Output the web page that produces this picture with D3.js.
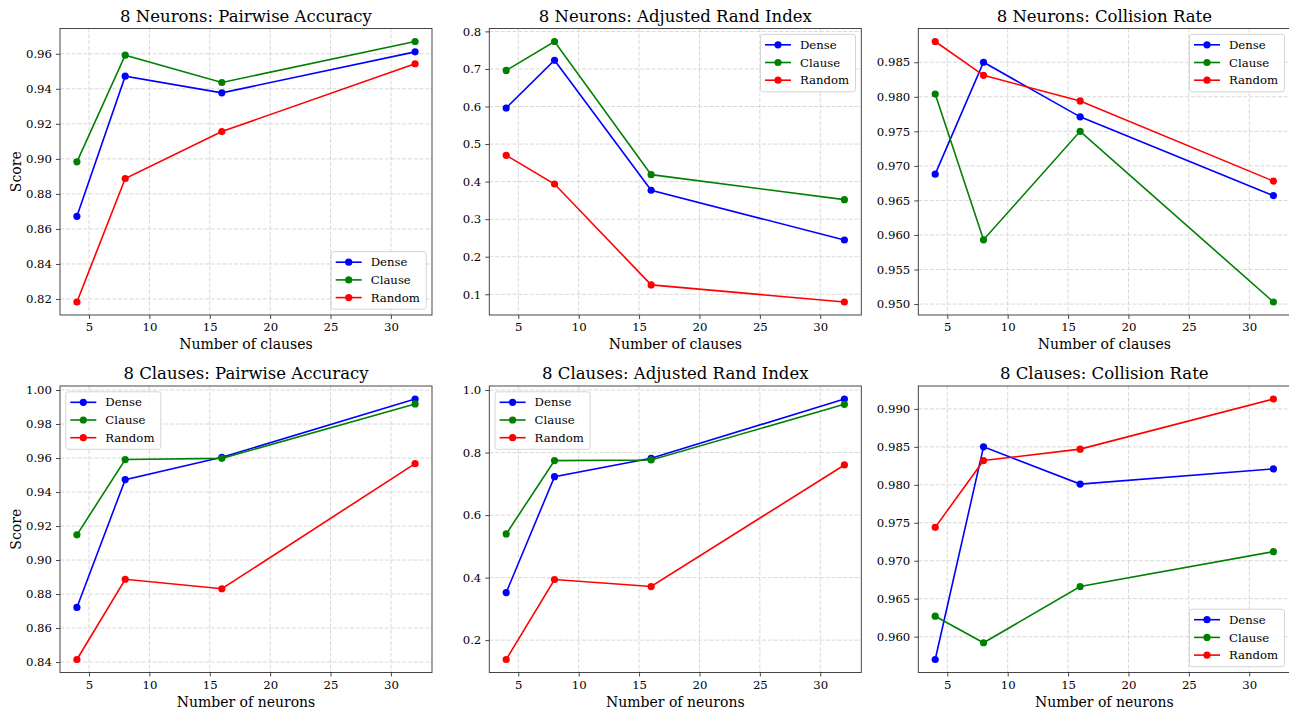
<!DOCTYPE html>
<html>
<head>
<meta charset="utf-8">
<script src="https://cdn.jsdelivr.net/npm/d3@7"></script>
<style>
  body { margin: 0; background: #fff; }
  svg text { font-family: "DejaVu Serif", serif; fill: #000; }
</style>
</head>
<body>
<div id="chart"></div>
<script>
// x values (clauses / neurons)
var xValues = [4, 8, 16, 32];
var xTicks = [5, 10, 15, 20, 25, 30];
var seriesNames = ['Dense', 'Clause', 'Random'];
var seriesColors = ['blue', 'green', 'red'];

// 8 neurons, varying clauses
var n8PairDense  = [0.8672, 0.9472, 0.9377, 0.9611];
var n8PairClause = [0.8983, 0.9592, 0.9436, 0.9670];
var n8PairRandom = [0.8183, 0.8888, 0.9156, 0.9543];

var n8AriDense  = [0.596, 0.723, 0.377, 0.2445];
var n8AriClause = [0.696, 0.773, 0.4185, 0.352];
var n8AriRandom = [0.470, 0.3936, 0.125, 0.0795];

var n8ColDense  = [0.9688, 0.9850, 0.9771, 0.9657];
var n8ColClause = [0.9804, 0.9593, 0.9750, 0.9503];
var n8ColRandom = [0.9880, 0.9831, 0.9794, 0.9678];

// 8 clauses, varying neurons
var c8PairDense  = [0.8721, 0.9473, 0.9604, 0.9947];
var c8PairClause = [0.9148, 0.9591, 0.9598, 0.9918];
var c8PairRandom = [0.8415, 0.8887, 0.8831, 0.9567];

var c8AriDense  = [0.3523, 0.723, 0.7816, 0.9712];
var c8AriClause = [0.5398, 0.7742, 0.7763, 0.9542];
var c8AriRandom = [0.1382, 0.394, 0.3715, 0.7603];

var c8ColDense  = [0.9570, 0.9850, 0.9801, 0.9821];
var c8ColClause = [0.9627, 0.9592, 0.9666, 0.9712];
var c8ColRandom = [0.9744, 0.9832, 0.9847, 0.9913];

// y tick labels
var pairTicksTop = [0.82, 0.84, 0.86, 0.88, 0.90, 0.92, 0.94, 0.96];
var ariTicksTop  = [0.1, 0.2, 0.3, 0.4, 0.5, 0.6, 0.7, 0.8];
var colTicksTop  = [0.950, 0.955, 0.960, 0.965, 0.970, 0.975, 0.980, 0.985];
var pairTicksBot = [0.84, 0.86, 0.88, 0.90, 0.92, 0.94, 0.96, 0.98, 1.00];
var ariTicksBot  = [0.2, 0.4, 0.6, 0.8, 1.0];
var colTicksBot  = [0.960, 0.965, 0.970, 0.975, 0.980, 0.985, 0.990];

var W = 1289, H = 708;
var panelW = 372, panelH = 286.5;
var colX = [60, 489.3, 918.3];
var rowY = [28.5, 386];

var panels = [
  {title: '8 Neurons: Pairwise Accuracy', xlabel: 'Number of clauses', ylabel: 'Score',
   series: [n8PairDense, n8PairClause, n8PairRandom], ticks: pairTicksTop, fmt: '.2f', legend: 'lr'},
  {title: '8 Neurons: Adjusted Rand Index', xlabel: 'Number of clauses',
   series: [n8AriDense, n8AriClause, n8AriRandom], ticks: ariTicksTop, fmt: '.1f', legend: 'ur'},
  {title: '8 Neurons: Collision Rate', xlabel: 'Number of clauses',
   series: [n8ColDense, n8ColClause, n8ColRandom], ticks: colTicksTop, fmt: '.3f', legend: 'ur'},
  {title: '8 Clauses: Pairwise Accuracy', xlabel: 'Number of neurons', ylabel: 'Score',
   series: [c8PairDense, c8PairClause, c8PairRandom], ticks: pairTicksBot, fmt: '.2f', legend: 'ul'},
  {title: '8 Clauses: Adjusted Rand Index', xlabel: 'Number of neurons',
   series: [c8AriDense, c8AriClause, c8AriRandom], ticks: ariTicksBot, fmt: '.1f', legend: 'ul'},
  {title: '8 Clauses: Collision Rate', xlabel: 'Number of neurons',
   series: [c8ColDense, c8ColClause, c8ColRandom], ticks: colTicksBot, fmt: '.3f', legend: 'lr'}
];

var svg = d3.select('#chart').append('svg')
  .attr('width', W)
  .attr('height', H);

var tickFont = 11.7, labelFont = 14, titleFont = 16.5, legendFont = 11.7;

function padded(lo, hi) {
  var m = (hi - lo) * 0.05;
  return [lo - m, hi + m];
}

panels.forEach(function(p, i) {
  var g = svg.append('g')
    .attr('transform', 'translate(' + colX[i % 3] + ',' + rowY[Math.floor(i / 3)] + ')');

  var allY = d3.merge(p.series);
  var x = d3.scaleLinear().domain(padded(d3.min(xValues), d3.max(xValues))).range([0, panelW]);
  var y = d3.scaleLinear().domain(padded(d3.min(allY), d3.max(allY))).range([panelH, 0]);

  // grid
  g.append('g').selectAll('line').data(xTicks).enter().append('line')
    .attr('x1', d => x(d)).attr('x2', d => x(d))
    .attr('y1', 0).attr('y2', panelH)
    .attr('stroke', '#d4d4d4').attr('stroke-width', 0.9).attr('stroke-dasharray', '4,1.8');
  g.append('g').selectAll('line').data(p.ticks).enter().append('line')
    .attr('x1', 0).attr('x2', panelW)
    .attr('y1', d => y(d)).attr('y2', d => y(d))
    .attr('stroke', '#d4d4d4').attr('stroke-width', 0.9).attr('stroke-dasharray', '4,1.8');

  // axes
  var xAxis = g.append('g').attr('transform', 'translate(0,' + panelH + ')')
    .call(d3.axisBottom(x).tickValues(xTicks).tickFormat(d3.format('d')).tickSize(4).tickPadding(4));
  var yAxis = g.append('g')
    .call(d3.axisLeft(y).tickValues(p.ticks).tickFormat(d3.format(p.fmt)).tickSize(4).tickPadding(4));
  [xAxis, yAxis].forEach(function(a) {
    a.select('.domain').remove();
    a.selectAll('line').attr('stroke', '#333').attr('stroke-width', 0.9);
    a.selectAll('text').style('font-family', '"DejaVu Serif", serif').style('font-size', tickFont + 'px').attr('fill', '#111');
  });

  // lines and markers
  p.series.forEach(function(vals, s) {
    var pts = xValues.map((xv, k) => [xv, vals[k]]);
    g.append('path')
      .datum(pts)
      .attr('fill', 'none')
      .attr('stroke', seriesColors[s])
      .attr('stroke-width', 1.6)
      .attr('d', d3.line().x(d => x(d[0])).y(d => y(d[1])));
    g.append('g').selectAll('circle').data(pts).enter().append('circle')
      .attr('cx', d => x(d[0])).attr('cy', d => y(d[1]))
      .attr('r', 3.6).attr('fill', seriesColors[s]);
  });

  // frame
  g.append('rect')
    .attr('width', panelW).attr('height', panelH)
    .attr('fill', 'none').attr('stroke', '#333').attr('stroke-width', 0.9);

  // title & labels
  g.append('text')
    .attr('x', panelW / 2).attr('y', -7)
    .attr('text-anchor', 'middle')
    .style('font-size', titleFont + 'px')
    .text(p.title);
  g.append('text')
    .attr('x', panelW / 2).attr('y', panelH + 34)
    .attr('text-anchor', 'middle')
    .style('font-size', labelFont + 'px')
    .text(p.xlabel);
  if (p.ylabel) {
    g.append('text')
      .attr('transform', 'translate(-39,' + (panelH / 2) + ') rotate(-90)')
      .attr('text-anchor', 'middle')
      .style('font-size', labelFont + 'px')
      .text(p.ylabel);
  }

  // legend
  var lw = 95, lh = 57.5, pad = 5.8;
  var lx = p.legend[1] === 'r' ? panelW - pad - lw : pad;
  var ly = p.legend[0] === 'u' ? pad : panelH - pad - lh;
  var leg = g.append('g').attr('transform', 'translate(' + lx + ',' + ly + ')');
  leg.append('rect')
    .attr('width', lw).attr('height', lh).attr('rx', 2.5)
    .attr('fill', 'white').attr('fill-opacity', 0.8)
    .attr('stroke', '#d0d0d0').attr('stroke-width', 0.9);
  seriesNames.forEach(function(name, s) {
    var ey = 10.5 + s * 17.7;
    leg.append('line')
      .attr('x1', 4.5).attr('x2', 30.5).attr('y1', ey).attr('y2', ey)
      .attr('stroke', seriesColors[s]).attr('stroke-width', 1.6);
    leg.append('circle')
      .attr('cx', 17.5).attr('cy', ey).attr('r', 3.6).attr('fill', seriesColors[s]);
    leg.append('text')
      .attr('x', 39.5).attr('y', ey + 4.2)
      .style('font-size', legendFont + 'px')
      .text(name);
  });
});
</script>
</body>
</html>
